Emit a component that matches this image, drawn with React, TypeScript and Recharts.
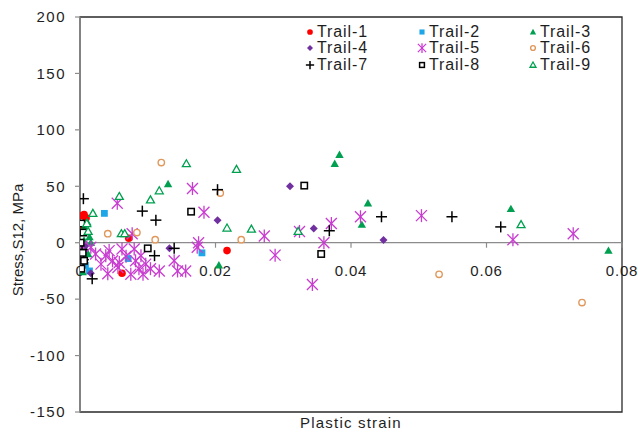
import {
  ScatterChart,
  Scatter,
  XAxis,
  YAxis,
  ReferenceLine,
  ReferenceArea,
  ReferenceDot,
  Label
} from 'recharts'

// strain, stress pairs
const trail1 = [[0.0003, 24], [0.0006, 25], [0.0009, 22], [0.0004, 12], [0.0072, 4], [0.0062, -27], [0.0217, -7]]
const trail2 = [[0.0036, 26], [0.0071, -14], [0.018, -9], [0.0014, -25], [0.0008, -20]]
const trail3 = [
  [0.0011, 18], [0.0009, 11], [0.0014, 5], [0.0006, 2], [0.0016, 0], [0.0004, -1], [0.0008, -6],
  [0.0012, -10], [0.0004, -26], [0.0006, 14], [0.013, 52], [0.0205, -20], [0.0376, 70], [0.0383, 78],
  [0.0425, 35], [0.0416, 16], [0.0636, 30], [0.078, -7]
]
const trail4 = [[0.0016, -27], [0.0008, -3], [0.0132, -5], [0.0203, 20], [0.031, 50], [0.0345, 12.5], [0.0448, 2.5]]
const trail5 = [
  [0.0055, 35], [0.0166, 48], [0.0183, 27], [0.0077, 8], [0.0175, 0], [0.0173, -4], [0.0272, 6],
  [0.0288, -11], [0.0324, 10], [0.0343, -37], [0.036, 0], [0.0371, 17], [0.0414, 23], [0.0504, 24],
  [0.0639, 2.6], [0.0728, 8], [0.0003, -3], [0.0016, -4], [0.0023, -10], [0.0031, -19], [0.0038, -11.5],
  [0.0043, -7], [0.0041, -27.5], [0.0048, -16], [0.0056, -22], [0.0058, -17.5], [0.0062, -5.5],
  [0.0068, -12], [0.0075, -28], [0.008, -5.5], [0.0082, -16], [0.009, -11.5], [0.0087, -23],
  [0.0093, -28], [0.0097, -19], [0.0104, -23], [0.0117, -25], [0.0139, -16], [0.0144, -25], [0.0156, -25]
]
const trail6 = [[0.0041, 8], [0.0084, 9], [0.012, 71], [0.0111, 2.7], [0.0207, 44], [0.0238, 2.7], [0.053, -28], [0.0741, -53]]
const trail7 = [
  [0.0005, 39], [0.0003, -6], [0.0005, -15], [0.0018, -32], [0.0092, 28], [0.0112, 20], [0.0203, 47],
  [0.011, -11.5], [0.0139, -5], [0.0368, 10.6], [0.0445, 23], [0.0549, 23], [0.0621, 14]
]
const trail8 = [
  [0.0002, 17], [0.0005, 9], [0.0001, 0], [0.0004, -9], [0.0006, -16], [0.0002, -23],
  [0.0164, 27.5], [0.01, -5], [0.0331, 50.6], [0.0356, -10]
]
const trail9 = [
  [0.0019, 26], [0.001, 17], [0.0012, 10], [0.0058, 41], [0.0061, 8], [0.0066, 8], [0.0104, 38],
  [0.0117, 46], [0.0157, 70], [0.0231, 65], [0.0217, 13], [0.0253, 12], [0.0322, 10], [0.0651, 16]
]

const xTicks = [0, 0.02, 0.04, 0.06, 0.08]
const yTicks = [-150, -100, -50, 0, 50, 100, 150, 200]

const FONT = '"Liberation Sans", Arial, sans-serif'
const TXT = '#1e1e1e'

type Kind = 'dot' | 'square' | 'tri' | 'diamond' | 'star' | 'ring' | 'plus' | 'box' | 'openTri'

const series: { name: string; data: number[][]; kind: Kind; color: string }[] = [
  { name: 'Trail-1', data: trail1, kind: 'dot', color: '#ff0000' },
  { name: 'Trail-2', data: trail2, kind: 'square', color: '#1ea7e8' },
  { name: 'Trail-3', data: trail3, kind: 'tri', color: '#00a050' },
  { name: 'Trail-4', data: trail4, kind: 'diamond', color: '#7030a0' },
  { name: 'Trail-5', data: trail5, kind: 'star', color: '#c83cd0' },
  { name: 'Trail-6', data: trail6, kind: 'ring', color: '#e0985c' },
  { name: 'Trail-7', data: trail7, kind: 'plus', color: '#000000' },
  { name: 'Trail-8', data: trail8, kind: 'box', color: '#000000' },
  { name: 'Trail-9', data: trail9, kind: 'openTri', color: '#00a050' }
]

function Marker({ kind, cx, cy, color, s = 1 }: { kind: Kind; cx: number; cy: number; color: string; s?: number }) {
  if (cx == null || cy == null) return null
  switch (kind) {
    case 'dot':
      return <circle cx={cx} cy={cy} r={3.8 * s} fill={color} />
    case 'square':
      return <rect x={cx - 3.4 * s} y={cy - 3.4 * s} width={6.8 * s} height={6.8 * s} fill={color} />
    case 'tri':
      return <polygon points={`${cx},${cy - 4.2 * s} ${cx + 4.2 * s},${cy + 3.2 * s} ${cx - 4.2 * s},${cy + 3.2 * s}`} fill={color} />
    case 'diamond':
      return <polygon points={`${cx},${cy - 4 * s} ${cx + 4 * s},${cy} ${cx},${cy + 4 * s} ${cx - 4 * s},${cy}`} fill={color} />
    case 'star': {
      const h = 6.5 * s
      const d = 5.5 * s
      return (
        <g stroke={color} strokeWidth={1.3}>
          <line x1={cx} y1={cy - h} x2={cx} y2={cy + h} />
          <line x1={cx - d} y1={cy - d} x2={cx + d} y2={cy + d} />
          <line x1={cx - d} y1={cy + d} x2={cx + d} y2={cy - d} />
        </g>
      )
    }
    case 'ring':
      return <circle cx={cx} cy={cy} r={3.2 * s} fill='#fff' stroke={color} strokeWidth={1.4} />
    case 'plus': {
      const h = 5.5 * s
      return (
        <g stroke={color} strokeWidth={1.5}>
          <line x1={cx - h} y1={cy} x2={cx + h} y2={cy} />
          <line x1={cx} y1={cy - h} x2={cx} y2={cy + h} />
        </g>
      )
    }
    case 'box':
      return <rect x={cx - 3.2 * s} y={cy - 3.2 * s} width={6.4 * s} height={6.4 * s} fill='#fff' stroke={color} strokeWidth={1.5} />
    case 'openTri':
      return (
        <polygon
          points={`${cx},${cy - 4 * s} ${cx + 4 * s},${cy + 3 * s} ${cx - 4 * s},${cy + 3 * s}`}
          fill='#fff'
          stroke={color}
          strokeWidth={1.3}
        />
      )
  }
  return null
}

function XTick({ cx, cy, value }: { cx: number; cy: number; value: number }) {
  if (cx == null || cy == null) return null
  return (
    <g>
      {value > 0 && <line x1={cx} y1={cy} x2={cx} y2={cy + 5} stroke='#8c8c8c' strokeWidth={1.2} />}
      <text
        x={cx}
        y={cy + 33}
        textAnchor='middle'
        fontFamily={FONT}
        fontSize={15}
        letterSpacing={0.8}
        fill={TXT}
      >
        {value === 0 ? '0' : value.toFixed(2)}
      </text>
    </g>
  )
}

function LegendBox() {
  return (
    <div
      style={{
        position: 'absolute',
        left: 304,
        top: 24,
        display: 'grid',
        gridTemplateColumns: '112px 111px 100px',
        fontFamily: FONT,
        fontSize: 16,
        letterSpacing: 0.9,
        lineHeight: '16.3px',
        color: TXT
      }}
    >
      {series.map((s) => (
        <div key={s.name} style={{ display: 'flex', alignItems: 'center', whiteSpace: 'nowrap' }}>
          <svg width={12} height={12} style={{ marginRight: 1 }}>
            <Marker kind={s.kind} cx={6} cy={6} color={s.color} s={0.75} />
          </svg>
          <span>{s.name}</span>
        </div>
      ))}
    </div>
  )
}

export default function App() {
  return (
    <div style={{ position: 'absolute', left: 0, top: 0, width: 638, height: 432, background: '#fff' }}>
      <ScatterChart width={638} height={432} margin={{ top: 17, right: 16, bottom: 0, left: 0 }}>
        <ReferenceArea
          x1={0}
          x2={0.08}
          y1={-150}
          y2={200}
          fill='none'
          stroke='#2a2a2a'
          strokeWidth={1.3}
          ifOverflow='visible'
        />
        <XAxis
          type='number'
          dataKey='x'
          domain={[0, 0.08]}
          ticks={xTicks}
          tick={false}
          axisLine={false}
          tickLine={false}
          height={20}
          allowDataOverflow
        >
          <Label
            content={({ viewBox }: any) => (
              <text
                x={viewBox.x + viewBox.width / 2}
                y={viewBox.y + 16}
                textAnchor='middle'
                fontFamily={FONT}
                fontSize={15}
                letterSpacing={1.2}
                fill={TXT}
              >
                Plastic strain
              </text>
            )}
          />
        </XAxis>
        <YAxis
          type='number'
          dataKey='y'
          domain={[-150, 200]}
          ticks={yTicks}
          interval={0}
          width={80}
          tickSize={5}
          tickMargin={9}
          axisLine={{ stroke: '#8c8c8c', strokeWidth: 1.3 }}
          tickLine={{ stroke: '#8c8c8c', strokeWidth: 1.2 }}
          tick={{ fontFamily: FONT, fontSize: 15, letterSpacing: 1.5, fill: TXT }}
          allowDataOverflow
        >
          <Label
            content={() => (
              <text
                x={17}
                y={240}
                textAnchor='middle'
                dominantBaseline='central'
                transform='rotate(-90 17 240)'
                fontFamily={FONT}
                fontSize={15}
                fill={TXT}
              >
                Stress,S12, MPa
              </text>
            )}
          />
        </YAxis>
        <ReferenceLine y={0} stroke='#8c8c8c' strokeWidth={1.3} />
        {xTicks.map((t) => (
          <ReferenceDot
            key={t}
            x={t}
            y={0}
            r={0}
            ifOverflow='visible'
            shape={(p: any) => <XTick cx={p.cx} cy={p.cy} value={t} />}
          />
        ))}
        {series.map((s) => (
          <Scatter
            key={s.name}
            name={s.name}
            data={s.data.map(([x, y]) => ({ x, y }))}
            isAnimationActive={false}
            shape={(p: any) => <Marker kind={s.kind} cx={p.cx} cy={p.cy} color={s.color} />}
          />
        ))}
      </ScatterChart>
      <LegendBox />
    </div>
  )
}
